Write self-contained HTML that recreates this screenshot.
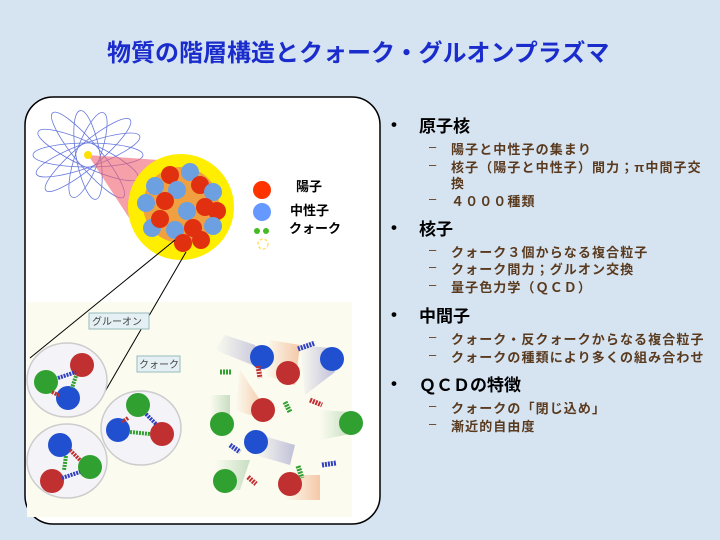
<!DOCTYPE html>
<html><head><meta charset="utf-8"><style>
body{margin:0;width:720px;height:540px;overflow:hidden;background:#d6e4f2;font-family:"Liberation Sans","Noto Sans CJK JP",sans-serif;position:relative}
.t{position:absolute;white-space:nowrap}
.title{left:107px;top:33px;font-size:24px;font-weight:bold;color:#1a2ccc}
.h{font-size:17px;font-weight:bold;color:#000;left:419px}
.b{font-size:17px;font-weight:bold;color:#000;left:391px;margin-top:3px}
.s{font-size:13px;font-weight:bold;color:#5a3a1e;left:451px;letter-spacing:1.1px}
.d{font-size:13px;color:#5a3a1e;left:429px}
</style></head><body>
<div class="t title">物質の階層構造とクォーク・グルオンプラズマ</div>
<svg style="position:absolute;left:0;top:0" width="720" height="540">
<defs>
<linearGradient id="gb" x1="0" y1="0" x2="1" y2="0"><stop offset="0" stop-color="#8080c0" stop-opacity="0"/><stop offset="1" stop-color="#8080c0" stop-opacity="0.6"/></linearGradient>
<linearGradient id="gr" x1="0" y1="0" x2="1" y2="0"><stop offset="0" stop-color="#f0a070" stop-opacity="0"/><stop offset="1" stop-color="#f0a070" stop-opacity="0.7"/></linearGradient>
<linearGradient id="gg" x1="0" y1="0" x2="1" y2="0"><stop offset="0" stop-color="#90c090" stop-opacity="0"/><stop offset="1" stop-color="#90c090" stop-opacity="0.6"/></linearGradient>
</defs>
<rect x="25" y="97" width="355" height="427" rx="28" fill="#fff" stroke="#000" stroke-width="1.5"/>
<rect x="27" y="302" width="325" height="215" fill="#fbfbf0"/>
<g fill="none" stroke="#6677dd" stroke-width="0.8">
<ellipse cx="88" cy="155" rx="55" ry="12" transform="rotate(0 88 155)"/>
<ellipse cx="88" cy="155" rx="55" ry="12" transform="rotate(25 88 155)"/>
<ellipse cx="88" cy="155" rx="55" ry="12" transform="rotate(50 88 155)"/>
<ellipse cx="88" cy="155" rx="45" ry="12" transform="rotate(80 88 155)"/>
<ellipse cx="88" cy="155" rx="45" ry="12" transform="rotate(110 88 155)"/>
<ellipse cx="88" cy="155" rx="55" ry="12" transform="rotate(140 88 155)"/>
<ellipse cx="88" cy="155" rx="55" ry="12" transform="rotate(160 88 155)"/>
</g>
<polygon points="88,155 158,160 150,250" fill="#f06070" opacity="0.6"/>
<circle cx="88" cy="155" r="4" fill="#ffe000"/>
<circle cx="181" cy="207" r="53" fill="#ffee00"/>
<circle cx="181" cy="205" r="38" fill="#f0a040"/>
<g stroke-width="2">
<circle cx="170" cy="175" r="9" fill="#e03010"/><circle cx="190" cy="172" r="9" fill="#6ca0e0"/>
<circle cx="155" cy="186" r="9" fill="#6ca0e0"/><circle cx="177" cy="190" r="9" fill="#6ca0e0"/>
<circle cx="200" cy="185" r="9" fill="#e03010"/><circle cx="213" cy="192" r="9" fill="#6ca0e0"/>
<circle cx="146" cy="203" r="9" fill="#6ca0e0"/><circle cx="165" cy="201" r="9" fill="#e03010"/>
<circle cx="187" cy="211" r="9" fill="#6ca0e0"/><circle cx="205" cy="207" r="9" fill="#e03010"/>
<circle cx="217" cy="211" r="9" fill="#e03010"/><circle cx="152" cy="228" r="9" fill="#6ca0e0"/>
<circle cx="160" cy="219" r="9" fill="#e03010"/><circle cx="175" cy="230" r="9" fill="#6ca0e0"/>
<circle cx="193" cy="228" r="9" fill="#e03010"/><circle cx="213" cy="226" r="9" fill="#6ca0e0"/>
<circle cx="201" cy="240" r="9" fill="#e03010"/><circle cx="183" cy="243" r="9" fill="#e03010"/>
</g>
<circle cx="262" cy="190" r="9" fill="#ff3300"/>
<circle cx="262" cy="212" r="9" fill="#6699ff"/>
<circle cx="257" cy="231" r="3" fill="#44bb22"/><circle cx="266" cy="231" r="3" fill="#44bb22"/>
<circle cx="263" cy="244" r="5" fill="none" stroke="#ffe070" stroke-width="1.5" stroke-dasharray="3 2"/>
<text x="296" y="191" font-size="13" font-weight="bold" font-family="Liberation Sans,Noto Sans CJK JP,sans-serif">陽子</text>
<text x="290" y="215" font-size="13" font-weight="bold" font-family="Liberation Sans,Noto Sans CJK JP,sans-serif">中性子</text>
<text x="289" y="233" font-size="13" font-weight="bold" font-family="Liberation Sans,Noto Sans CJK JP,sans-serif">クォーク</text>
<line x1="175" y1="240" x2="30" y2="358" stroke="#000"/>
<line x1="186" y1="252" x2="103" y2="395" stroke="#000"/>
<g fill="none" stroke="#ccc" stroke-width="1.5">
<ellipse cx="67" cy="380" rx="40" ry="37" fill="#f4f4f8"/>
<ellipse cx="141" cy="428" rx="40" ry="37" fill="#f4f4f8"/>
<ellipse cx="67" cy="461" rx="40" ry="37" fill="#f4f4f8"/>
</g>
<rect x="89" y="313" width="60" height="16" fill="#e4f0f4" stroke="#9bb"/>
<text x="92" y="325" font-size="10" fill="#444" font-family="Liberation Sans,Noto Sans CJK JP,sans-serif">グルーオン</text>
<rect x="137" y="356" width="43" height="16" fill="#e4f0f4" stroke="#9bb"/>
<text x="139" y="368" font-size="10" fill="#444" font-family="Liberation Sans,Noto Sans CJK JP,sans-serif">クォーク</text>
<g opacity="0.8">
<polygon points="225,335 255,345 265,370 215,350" fill="url(#gb)"/>
<polygon points="270,340 300,345 295,385 265,375" fill="url(#gr)" transform="rotate(0)"/>
<polygon points="300,345 330,348 335,372 305,395" fill="url(#gb)"/>
<polygon points="240,370 260,400 265,420 235,410" fill="url(#gr)"/>
<polygon points="210,395 230,395 230,430 210,430" fill="url(#gg)"/>
<polygon points="320,410 350,412 350,434 320,440" fill="url(#gg)"/>
<polygon points="260,435 295,445 290,465 255,455" fill="url(#gb)"/>
<polygon points="215,460 250,460 240,490 215,490" fill="url(#gg)"/>
<polygon points="285,475 320,475 320,500 285,500" fill="url(#gr)"/>
</g>
<g>
<circle cx="82" cy="365" r="12" fill="#c03030"/><circle cx="46" cy="382" r="12" fill="#30a030"/><circle cx="68" cy="398" r="12" fill="#2050d0"/>
<circle cx="138" cy="405" r="12" fill="#30a030"/><circle cx="118" cy="430" r="12" fill="#2050d0"/><circle cx="162" cy="434" r="12" fill="#c03030"/>
<circle cx="60" cy="445" r="12" fill="#2050d0"/><circle cx="90" cy="467" r="12" fill="#30a030"/><circle cx="52" cy="481" r="12" fill="#c03030"/>
<circle cx="262" cy="357" r="12" fill="#2050d0"/><circle cx="288" cy="373" r="12" fill="#c03030"/><circle cx="332" cy="359" r="12" fill="#2050d0"/>
<circle cx="263" cy="410" r="12" fill="#c03030"/><circle cx="222" cy="424" r="12" fill="#30a030"/><circle cx="351" cy="423" r="12" fill="#30a030"/>
<circle cx="256" cy="442" r="12" fill="#2050d0"/><circle cx="225" cy="481" r="12" fill="#30a030"/><circle cx="290" cy="484" r="12" fill="#c03030"/>
</g>
<g fill="none" stroke-width="1.2" stroke-dasharray="2 1">
<line x1="58" y1="378" x2="76" y2="372" stroke="#3040c0" stroke-width="4"/>
<line x1="76" y1="376" x2="72" y2="388" stroke="#30a030" stroke-width="4"/>
<line x1="52" y1="392" x2="60" y2="396" stroke="#c03030" stroke-width="4"/>
<line x1="128" y1="418" x2="122" y2="422" stroke="#c03030" stroke-width="4"/>
<line x1="146" y1="414" x2="156" y2="424" stroke="#3040c0" stroke-width="4"/>
<line x1="130" y1="432" x2="150" y2="434" stroke="#30a030" stroke-width="4"/>
<line x1="66" y1="456" x2="64" y2="470" stroke="#30a030" stroke-width="4"/>
<line x1="70" y1="450" x2="80" y2="460" stroke="#c03030" stroke-width="4"/>
<line x1="62" y1="478" x2="80" y2="472" stroke="#3040c0" stroke-width="4"/>
<line x1="220" y1="372" x2="232" y2="372" stroke="#30a030" stroke-width="5"/>
<line x1="298" y1="349" x2="315" y2="343" stroke="#3040c0" stroke-width="5"/>
<line x1="258" y1="366" x2="260" y2="378" stroke="#c03030" stroke-width="5"/>
<line x1="285" y1="402" x2="290" y2="412" stroke="#30a030" stroke-width="5"/>
<line x1="310" y1="400" x2="322" y2="405" stroke="#c03030" stroke-width="5"/>
<line x1="230" y1="445" x2="240" y2="452" stroke="#3040c0" stroke-width="5"/>
<line x1="248" y1="477" x2="256" y2="484" stroke="#c03030" stroke-width="5"/>
<line x1="298" y1="466" x2="302" y2="478" stroke="#30a030" stroke-width="5"/>
<line x1="322" y1="465" x2="336" y2="463" stroke="#3040c0" stroke-width="5"/>
</g>
</svg>
<div class="t b" style="top:112px">•</div><div class="t h" style="top:112px">原子核</div>
<div class="t d" style="top:139px">–</div><div class="t s" style="top:139px">陽子と中性子の集まり</div>
<div class="t d" style="top:157px">–</div><div class="t s" style="top:157px">核子（陽子と中性子）間力；π中間子交</div>
<div class="t s" style="top:173px">換</div>
<div class="t d" style="top:191px">–</div><div class="t s" style="top:191px">４０００種類</div>
<div class="t b" style="top:215px">•</div><div class="t h" style="top:215px">核子</div>
<div class="t d" style="top:242px">–</div><div class="t s" style="top:242px">クォーク３個からなる複合粒子</div>
<div class="t d" style="top:259px">–</div><div class="t s" style="top:259px">クォーク間力；グルオン交換</div>
<div class="t d" style="top:277px">–</div><div class="t s" style="top:277px">量子色力学（ＱＣＤ）</div>
<div class="t b" style="top:302px">•</div><div class="t h" style="top:302px">中間子</div>
<div class="t d" style="top:329px">–</div><div class="t s" style="top:329px">クォーク・反クォークからなる複合粒子</div>
<div class="t d" style="top:347px">–</div><div class="t s" style="top:347px">クォークの種類により多くの組み合わせ</div>
<div class="t b" style="top:371px">•</div><div class="t h" style="top:371px">ＱＣＤの特徴</div>
<div class="t d" style="top:398px">–</div><div class="t s" style="top:398px">クォークの「閉じ込め」</div>
<div class="t d" style="top:416px">–</div><div class="t s" style="top:416px">漸近的自由度</div>
</body></html>
